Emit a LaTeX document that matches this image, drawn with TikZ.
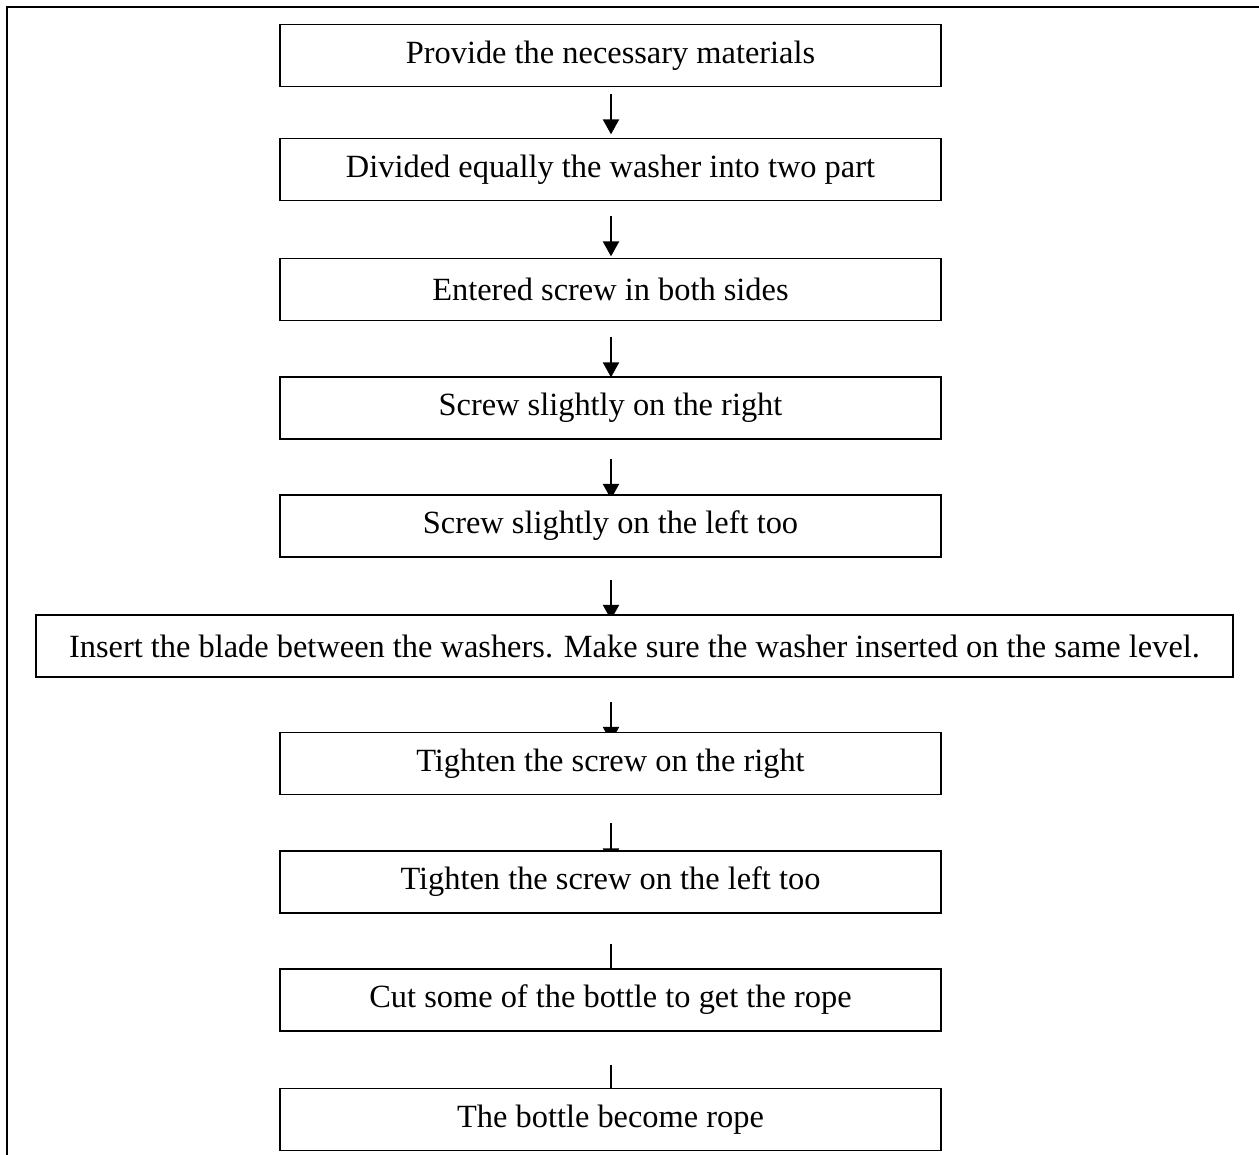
\documentclass[tikz,border=0pt]{standalone}
\usepackage{fontspec}
\setmainfont{Liberation Serif}
\usepackage{tikz}
\usetikzlibrary{positioning, arrows.meta, calc, backgrounds}
\definecolor{cInk}{HTML}{000000}

\begin{document}
\begin{tikzpicture}[x=0.5pt, y=-0.5pt,
    stepbox/.style={draw=cInk, fill=white, line width=0.85pt,
      minimum width=330.5pt, minimum height=31pt, inner sep=0pt,
      font=\fontsize{16.2}{19}\selectfont},
    widebox/.style={stepbox, minimum width=598.5pt},
    flow/.style={-{Triangle[length=7.5pt, width=8pt]}, line width=1.1pt, draw=cInk},
  ]
  \useasboundingbox (0,0) rectangle (1259,1155);
  % page frame, only top and left edges show
  \draw[line width=1pt, cInk] (1259,7) -- (7,7) -- (7,1155);

  % the steps
  \node[stepbox] (b1)  at (610.5,55.5)  {Provide the necessary materials};
  \node[stepbox] (b2)  at (610.5,169.5) {Divided equally the washer into two part};
  \node[stepbox] (b3)  at (610.5,289.5) {Entered screw in both sides};
  \node[stepbox] (b4)  at (610.5,408)   {Screw slightly on the right};
  \node[stepbox] (b5)  at (610.5,526)   {Screw slightly on the left too};
  \node[widebox] (b6)  at (634.5,646)   {Insert the blade between the washers. Make sure the washer inserted on the same level.};
  \node[stepbox] (b7)  at (610.5,763.5) {Tighten the screw on the right};
  \node[stepbox] (b8)  at (610.5,882)   {Tighten the screw on the left too};
  \node[stepbox] (b9)  at (610.5,1000)  {Cut some of the bottle to get the rope};
  \node[stepbox] (b10) at (610.5,1119.5){The bottle become rope};

  % arrows sit behind the boxes, so the lower heads get covered
  \begin{scope}[on background layer]
    \foreach \from/\gap in {b1/7, b2/15, b3/16, b4/19, b5/22, b6/24, b7/28, b8/30, b9/33} {
      \coordinate (\from-out) at ($(\from.south -| 611,0)+(0,\gap)$);
      \draw[flow] (\from-out) -- ++(0,40);
    }
  \end{scope}
\end{tikzpicture}
\end{document}
